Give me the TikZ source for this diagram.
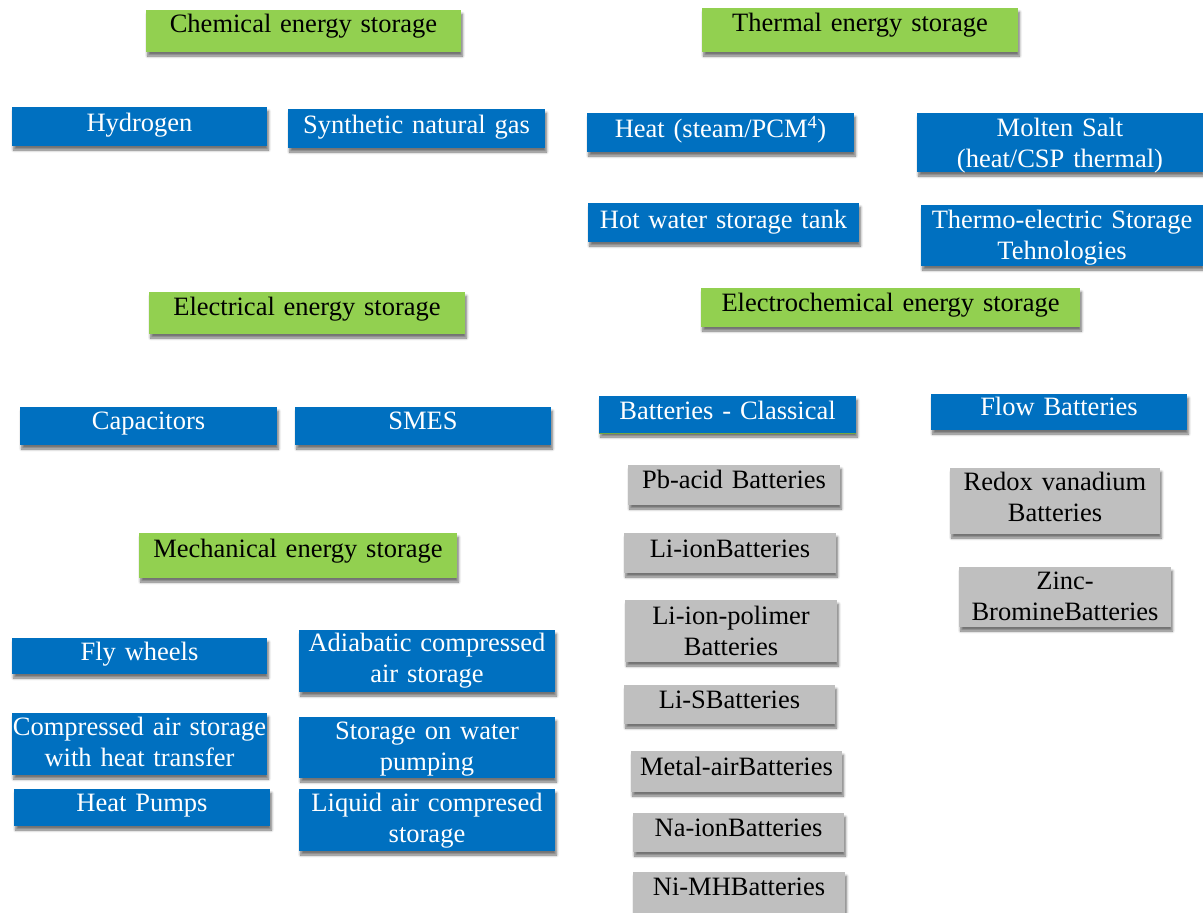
\documentclass[tikz,border=0pt]{standalone}
\usepackage{fontspec}
\setmainfont{Liberation Serif}
\usetikzlibrary{shadows,shadows.blur}
\definecolor{cgreen}{HTML}{92D050}
\definecolor{cblue}{HTML}{0070C0}
\definecolor{cgray}{HTML}{BFBFBF}
\tikzset{
  basebox/.style={rectangle, inner sep=0pt, draw=none,
    blur shadow={shadow xshift=1.5bp, shadow yshift=-4bp, shadow blur steps=6, shadow blur radius=2.5bp, shadow opacity=55}},
  gbox/.style={basebox, fill=cgreen},
  bbox/.style={basebox, fill=cblue},
  ybox/.style={basebox, fill=cgray},
  lbl/.style={inner sep=0pt, align=center, anchor=base, font=\fontsize{26.5bp}{31bp}\selectfont},
  gtxt/.style={lbl, text=black},
  btxt/.style={lbl, text=white},
  ytxt/.style={lbl, text=black},
}
% name, kind, x1, y1, x2, y2, baseline, text
\newcommand\bx[8]{%
  \pgfmathsetmacro\bxw{#5-#3}%
  \pgfmathsetmacro\bxh{#6-#4}%
  \pgfmathsetmacro\bxcx{(#3+#5)/2}%
  \pgfmathsetmacro\bxcy{(#4+#6)/2}%
  \pgfmathsetmacro\bxtw{#5-#3+40}%
  \node[#2box, minimum width=\bxw bp, minimum height=\bxh bp] (#1) at (\bxcx,\bxcy) {};
  \node[#2txt, text width=\bxtw bp] (#1t) at (\bxcx,#7) {#8};%
}
\begin{document}
\begin{tikzpicture}[x=1bp,y=-1bp]
\useasboundingbox (0,0) rectangle (1203,913);
% Chemical
\bx{chem}{g}{146}{10}{461}{52}{32}{Chemical energy storage}
\bx{hyd}{b}{12}{107}{267}{146}{131}{Hydrogen}
\bx{sng}{b}{288}{109}{545}{148}{133}{Synthetic natural gas}
% Thermal
\bx{therm}{g}{702}{8}{1018}{52}{31}{Thermal energy storage}
\bx{heat}{b}{587}{113}{854}{152}{137}{Heat (steam/PCM\textsuperscript{4})}
\bx{molten}{b}{917}{113}{1203}{172}{136}{Molten Salt\\(heat/CSP thermal)}
\bx{hotw}{b}{588}{203}{859}{242}{228}{Hot water storage tank}
\bx{thermoel}{b}{921}{205}{1203}{266}{228}{Thermo-electric Storage\\Tehnologies}
% Electrical
\bx{elec}{g}{149}{292}{465}{334}{315}{Electrical energy storage}
\bx{cap}{b}{20}{407}{277}{445}{429}{Capacitors}
\bx{smes}{b}{295}{407}{551}{445}{429}{SMES}
% Electrochemical
\bx{echem}{g}{701}{288}{1080}{327}{311}{Electrochemical energy storage}
\bx{batc}{b}{599}{396}{856}{433}{419}{Batteries - Classical}
\draw[cgreen!80!black, line width=1bp] (batc.south west) -- (batc.south east);
\bx{flow}{b}{931}{394}{1187}{430}{415}{Flow Batteries}
\bx{pb}{y}{628}{465}{840}{505}{488}{Pb-acid Batteries}
\bx{liion}{y}{624}{533}{836}{573}{557}{Li-ionBatteries}
\bx{lipol}{y}{625}{600}{837}{662}{624}{Li-ion-polimer\\Batteries}
\bx{lis}{y}{624}{685}{835}{724}{708}{Li-SBatteries}
\bx{metal}{y}{631}{751}{842}{792}{775}{Metal-airBatteries}
\bx{na}{y}{633}{813}{844}{852}{836}{Na-ionBatteries}
\bx{nimh}{y}{633}{872}{845}{913}{895}{Ni-MHBatteries}
\bx{redox}{y}{950}{468}{1160}{534}{490}{Redox vanadium\\Batteries}
\bx{zinc}{y}{959}{567}{1171}{627}{589}{Zinc-\\BromineBatteries}
% Mechanical
\bx{mech}{g}{139}{533}{457}{578}{557}{Mechanical energy storage}
\bx{fly}{b}{12}{638}{267}{674}{660}{Fly wheels}
\bx{adia}{b}{299}{630}{555}{692}{651}{Adiabatic compressed\\air storage}
\bx{comp}{b}{12}{713}{267}{775}{735}{Compressed air storage\\with heat transfer}
\bx{water}{b}{299}{717}{555}{778}{739}{Storage on water\\pumping}
\bx{hp}{b}{14}{789}{270}{826}{811}{Heat Pumps}
\bx{liquid}{b}{299}{789}{555}{851}{811}{Liquid air compresed\\storage}
\end{tikzpicture}
\end{document}
